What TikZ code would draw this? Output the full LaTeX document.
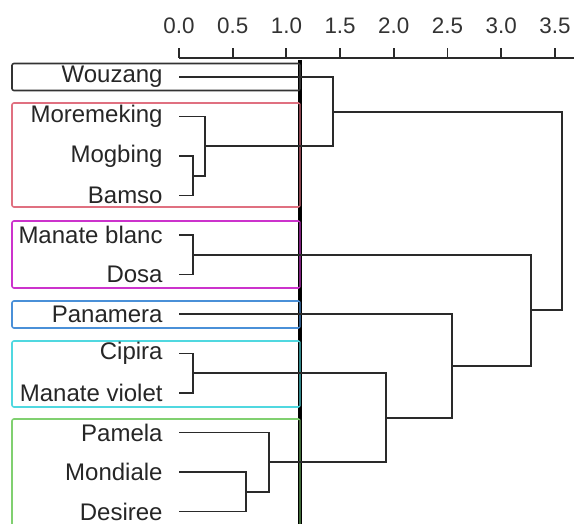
\documentclass[tikz,border=0pt]{standalone}
\usepackage{fontspec}
\setmainfont{Liberation Sans}
\definecolor{boxred}{HTML}{E07080}
\definecolor{boxmag}{HTML}{CC33CC}
\definecolor{boxblue}{HTML}{4A90D8}
\definecolor{boxcyan}{HTML}{50D8E0}
\definecolor{boxgreen}{HTML}{80D070}
\definecolor{linegray}{HTML}{2A2A2A}
\tikzset{
    leaf/.style={anchor=east, inner xsep=8pt, inner ysep=0pt, font=\fontsize{12}{14}\selectfont, text=black!85},
    tick/.style={font=\fontsize{11.2}{13}\selectfont, text=black!80, inner sep=0pt},
    link/.style={linegray, line width=0.95pt},
    group/.style={line width=0.8pt, rounded corners=1pt},
    cut/.style={black, line width=2pt}
}
\begin{document}
\begin{tikzpicture}[x=0.5pt, y=-0.5pt]
\useasboundingbox (0,0) rectangle (574,524);

\draw[link] (179,58) -- (574,58);
\draw[link] (179,58) -- (179,48);
\draw[link] (232.7,58) -- (232.7,48);
\draw[link] (286.4,58) -- (286.4,48);
\draw[link] (340.1,58) -- (340.1,48);
\draw[link] (393.8,58) -- (393.8,48);
\draw[link] (447.5,58) -- (447.5,48);
\draw[link] (501.2,58) -- (501.2,48);
\draw[link] (554.9,58) -- (554.9,48);
\node[tick] at (179,26) (t0) {0.0};
\node[tick] at (232.7,26) (t1) {0.5};
\node[tick] at (286.4,26) (t2) {1.0};
\node[tick] at (340.1,26) (t3) {1.5};
\node[tick] at (393.8,26) (t4) {2.0};
\node[tick] at (447.5,26) (t5) {2.5};
\node[tick] at (501.2,26) (t6) {3.0};
\node[tick] at (554.9,26) (t7) {3.5};

\draw[cut] (300,60) -- (300,524);

\draw[group, black!80] (12,63.5) rectangle (300,90.5);
\draw[group, boxred] (12,103) rectangle (300,207);
\draw[group, boxmag] (12,221) rectangle (300,288);
\draw[group, boxblue] (12,301) rectangle (300,328);
\draw[group, boxcyan] (12,341) rectangle (300,407);
\draw[group, boxgreen] (12,419) rectangle (300,530);
\draw[line width=1.4pt, boxred!60!black] (300,104) -- (300,206);
\draw[line width=1.4pt, boxmag!60!black] (300,222) -- (300,287);
\draw[line width=1.4pt, boxblue!60!black] (300,302) -- (300,327);
\draw[line width=1.4pt, boxcyan!60!black] (300,342) -- (300,406);
\draw[line width=1.4pt, boxgreen!50!black] (300,420) -- (300,524);

\node[leaf] at (179,77) (wouzang) {Wouzang};
\node[leaf] at (179,116.5) (moremeking) {Moremeking};
\node[leaf] at (179,156) (mogbing) {Mogbing};
\node[leaf] at (179,195.5) (bamso) {Bamso};
\node[leaf] at (179,235) (blanc) {Manate blanc};
\node[leaf] at (179,274.5) (dosa) {Dosa};
\node[leaf] at (179,314) (panamera) {Panamera};
\node[leaf] at (179,353.5) (cipira) {Cipira};
\node[leaf] at (179,393) (violet) {Manate violet};
\node[leaf] at (179,432.5) (pamela) {Pamela};
\node[leaf] at (179,472) (mondiale) {Mondiale};
\node[leaf] at (179,511.5) (desiree) {Desiree};

\coordinate (m1) at (193,175.75);
\coordinate (m2) at (205,146.1);
\coordinate (m3) at (333,111.6);
\coordinate (m4) at (193,254.75);
\coordinate (m5) at (193,373.25);
\coordinate (m6) at (246,491.75);
\coordinate (m7) at (269,462.1);
\coordinate (m8) at (386,417.7);
\coordinate (m9) at (452,365.8);
\coordinate (m10) at (531,310.3);
\coordinate (m11) at (562,211);

\draw[link] (mogbing.east) -| (m1) |- (bamso.east);
\draw[link] (moremeking.east) -| (m2) |- (m1);
\draw[link] (wouzang.east) -| (m3) |- (m2);
\draw[link] (blanc.east) -| (m4) |- (dosa.east);
\draw[link] (cipira.east) -| (m5) |- (violet.east);
\draw[link] (mondiale.east) -| (m6) |- (desiree.east);
\draw[link] (pamela.east) -| (m7) |- (m6);
\draw[link] (m5) -| (m8) |- (m7);
\draw[link] (panamera.east) -| (m9) |- (m8);
\draw[link] (m4) -| (m10) |- (m9);
\draw[link] (m3) -| (m11) |- (m10);
\end{tikzpicture}
\end{document}
